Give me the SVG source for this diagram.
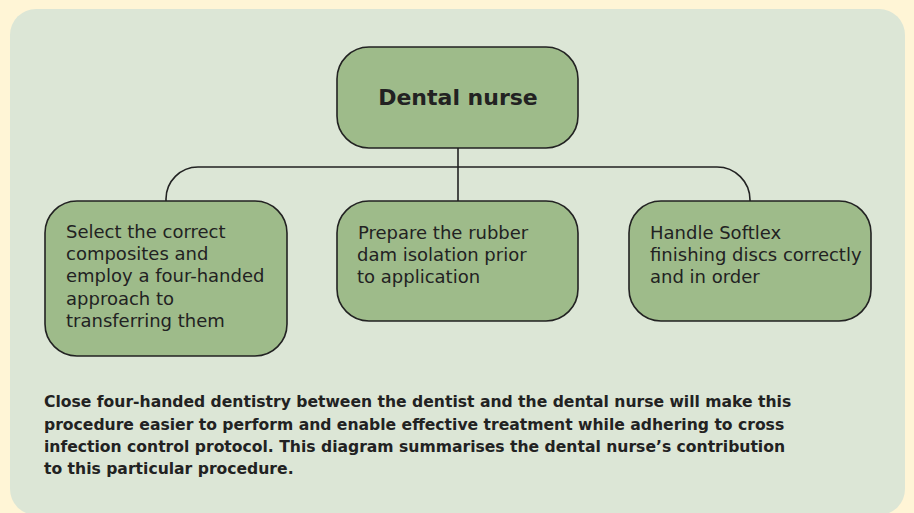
<svg xmlns="http://www.w3.org/2000/svg" width="914" height="513" viewBox="0 0 914 513">
<style>
.node{fill:#9EBB8A;stroke:#222;stroke-width:1.6}
.conn{fill:none;stroke:#222;stroke-width:1.6}
.t{font-family:"DejaVu Sans","Liberation Sans",sans-serif;fill:#222}
.body{font-size:18px}
.title{font-size:22px;font-weight:bold}
.cap{font-size:15.6px;font-weight:bold}
</style>
<rect x="0" y="0" width="914" height="513" fill="#FFF5D6"/>
<rect x="10" y="9" width="895" height="506" rx="26" fill="#DCE6D6"/>
<g id="connectors">
<path class="conn" d="M458,148 V201"/>
<path class="conn" d="M166,201 V199 A32,32 0 0 1 198,167 H717 A33,33 0 0 1 750,200 V201"/>
</g>
<g id="dental-nurse">
<rect class="node" x="337" y="47" width="241" height="101" rx="32"/>
<text class="t title" x="458" y="105" text-anchor="middle">Dental nurse</text>
</g>
<g id="select-composites">
<rect class="node" x="45" y="201" width="242" height="155" rx="32"/>
<text class="t body" x="66" y="238">Select the correct</text>
<text class="t body" x="66" y="260">composites and</text>
<text class="t body" x="66" y="282">employ a four-handed</text>
<text class="t body" x="66" y="305">approach to</text>
<text class="t body" x="66" y="327">transferring them</text>
</g>
<g id="rubber-dam">
<rect class="node" x="337" y="201" width="241" height="120" rx="32"/>
<text class="t body" x="358" y="239">Prepare the rubber</text>
<text class="t body" x="357" y="261">dam isolation prior</text>
<text class="t body" x="357" y="283">to application</text>
</g>
<g id="softlex">
<rect class="node" x="629" y="201" width="242" height="120" rx="32"/>
<text class="t body" x="650" y="239">Handle Softlex</text>
<text class="t body" x="650" y="261">finishing discs correctly</text>
<text class="t body" x="650" y="283">and in order</text>
</g>
<g id="caption">
<text class="t cap" x="44" y="407">Close four-handed dentistry between the dentist and the dental nurse will make this</text>
<text class="t cap" x="44" y="430">procedure easier to perform and enable effective treatment while adhering to cross</text>
<text class="t cap" x="44" y="452">infection control protocol. This diagram summarises the dental nurse’s contribution</text>
<text class="t cap" x="44" y="474">to this particular procedure.</text>
</g>
</svg>
